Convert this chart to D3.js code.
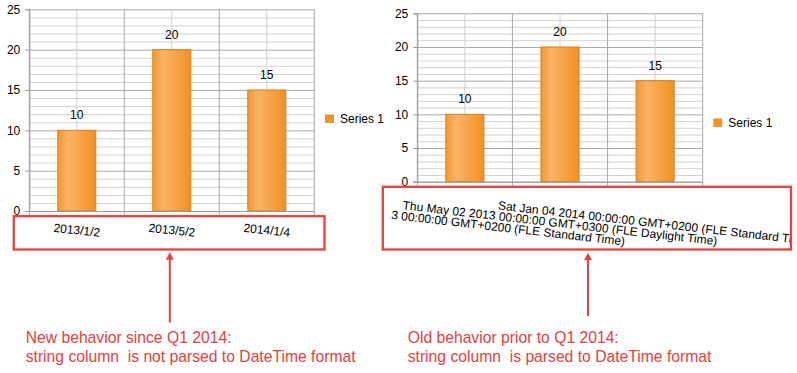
<!DOCTYPE html>
<html>
<head>
<meta charset="utf-8">
<script src="https://cdn.jsdelivr.net/npm/d3@7"></script>
<style>
  body { margin: 0; background: #fff; }
  svg { display: block; font-family: "Liberation Sans", Arial, sans-serif; }
</style>
</head>
<body>
<div id="chart"></div>
<script>
// data
const categories = ["2013/1/2", "2013/5/2", "2014/1/4"];
const parsedCategories = [
  "Wed Jan 02 2013 00:00:00 GMT+0200 (FLE Standard Time)",
  "Thu May 02 2013 00:00:00 GMT+0300 (FLE Daylight Time)",
  "Sat Jan 04 2014 00:00:00 GMT+0200 (FLE Standard Time)"
];
const values = [10, 20, 15];
const yTicks = [0, 5, 10, 15, 20, 25];
const seriesName = "Series 1";
const newNote = ["New behavior since Q1 2014:", "string column  is not parsed to DateTime format"];
const oldNote = ["Old behavior prior to Q1 2014:", "string column  is parsed to DateTime format"];

const red = "#e8403d";
const W = 797, H = 373;

const svg = d3.select("#chart").append("svg")
    .attr("width", W)
    .attr("height", H);

const defs = svg.append("defs");
const grad = defs.append("linearGradient")
    .attr("id", "barGrad")
    .attr("x1", 0).attr("x2", 1).attr("y1", 0).attr("y2", 0);
grad.selectAll("stop")
  .data([
    {offset: "0%", color: "#f39832"},
    {offset: "28%", color: "#f8b466"},
    {offset: "100%", color: "#f39022"}
  ])
  .enter().append("stop")
    .attr("offset", d => d.offset)
    .attr("stop-color", d => d.color);

// the old-behaviour screenshot is cropped, so its long labels get cut off
defs.append("clipPath").attr("id", "rightClip")
  .append("rect")
    .attr("x", 390).attr("y", 180).attr("width", 400).attr("height", 80);

function drawChart(p) {
  const g = svg.append("g");

  const x = d3.scaleBand()
      .domain(p.labels)
      .range([p.left, p.right])
      .padding(0);

  const y = d3.scaleLinear()
      .domain([0, 25])
      .range([p.bottom, p.top]);

  // minor + major horizontal grid
  g.append("g").selectAll("line")
    .data(d3.range(0, 26))
    .enter().append("line")
      .attr("x1", p.left).attr("x2", p.right)
      .attr("y1", d => y(d) + 0.5).attr("y2", d => y(d) + 0.5)
      .attr("stroke", d => d % 5 === 0 ? "#a9a9a9" : "#d2d2d2");

  // vertical grid: minor at centers, major at band edges
  g.append("g").selectAll("line")
    .data(p.labels)
    .enter().append("line")
      .attr("x1", d => x(d) + x.bandwidth() / 2).attr("x2", d => x(d) + x.bandwidth() / 2)
      .attr("y1", p.top).attr("y2", p.bottom)
      .attr("stroke", "#d2d2d2");

  const edges = p.labels.map(d => x(d)).concat([p.right]);
  g.append("g").selectAll("line")
    .data(edges)
    .enter().append("line")
      .attr("x1", d => d).attr("x2", d => d)
      .attr("y1", p.top).attr("y2", p.bottom + 4)
      .attr("stroke", "#a9a9a9");

  // bars
  const bw = x.bandwidth() * 0.4;
  g.append("g").selectAll("rect")
    .data(values)
    .enter().append("rect")
      .attr("x", (d, i) => x(p.labels[i]) + (x.bandwidth() - bw) / 2)
      .attr("y", d => y(d))
      .attr("width", bw)
      .attr("height", d => y(0) - y(d))
      .attr("fill", "url(#barGrad)")
      .attr("stroke", "#d5801c")
      .attr("stroke-width", 1);

  g.append("g").selectAll("text")
    .data(values)
    .enter().append("text")
      .attr("x", (d, i) => x(p.labels[i]) + x.bandwidth() / 2)
      .attr("y", d => y(d) - 11)
      .attr("text-anchor", "middle")
      .attr("font-size", 12)
      .attr("fill", "#000")
      .text(d => d);

  // y axis
  const yAxis = g.append("g")
      .attr("transform", `translate(${p.left},0)`)
      .call(d3.axisLeft(y).tickValues(yTicks).tickSize(4).tickPadding(5));
  yAxis.select(".domain").attr("stroke", "#9a9a9a");
  yAxis.selectAll(".tick line").attr("stroke", "#9a9a9a");
  yAxis.selectAll("text")
      .attr("font-size", 12)
      .attr("font-family", "Liberation Sans, Arial, sans-serif")
      .attr("fill", "#000");

  // x axis base line
  g.append("line")
      .attr("x1", p.left - 4).attr("x2", p.right)
      .attr("y1", p.bottom + 0.5).attr("y2", p.bottom + 0.5)
      .attr("stroke", "#9a9a9a");

  // category labels, slightly rotated
  const lab = g.append("g");
  if (p.clip) lab.attr("clip-path", "url(#" + p.clip + ")");
  lab.selectAll("text")
    .data(p.labels)
    .enter().append("text")
      .attr("transform", d => `translate(${x(d) + x.bandwidth() / 2},${p.labelY}) rotate(${p.angle})`)
      .attr("text-anchor", "middle")
      .attr("dy", "0.35em")
      .attr("font-size", 12)
      .attr("fill", "#000")
      .text(d => d);

  // legend
  const lg = g.append("g").attr("transform", `translate(${p.legendX},${p.legendY})`);
  lg.append("rect")
      .attr("x", 0).attr("y", -4.5)
      .attr("width", 9).attr("height", 8.5)
      .attr("fill", "#f39428");
  lg.append("text")
      .attr("x", 15).attr("dy", "0.35em")
      .attr("font-size", 12)
      .attr("fill", "#000")
      .text(seriesName);

  // red highlight box, arrow and note
  svg.append("rect")
      .attr("x", p.box[0]).attr("y", p.box[1])
      .attr("width", p.box[2] - p.box[0]).attr("height", p.box[3] - p.box[1])
      .attr("fill", "none")
      .attr("stroke", red)
      .attr("stroke-width", 2.3);

  svg.append("line")
      .attr("x1", p.arrow[0]).attr("x2", p.arrow[0])
      .attr("y1", p.arrow[1] + 6).attr("y2", p.arrow[2])
      .attr("stroke", red)
      .attr("stroke-width", 2);
  svg.append("path")
      .attr("d", `M${p.arrow[0]},${p.arrow[1]} L${p.arrow[0] + 4},${p.arrow[1] + 7.5} L${p.arrow[0] - 4},${p.arrow[1] + 7.5} Z`)
      .attr("fill", red);

  svg.append("g").selectAll("text")
    .data(p.note)
    .enter().append("text")
      .attr("x", p.noteX)
      .attr("y", (d, i) => 342.7 + i * 19)
      .attr("font-size", 15.7)
      .attr("fill", red)
      .style("white-space", "pre")
      .text(d => d);
}

drawChart({
  labels: categories,
  left: 29.3, right: 314.3, top: 9.3, bottom: 211,
  labelY: 230, angle: 6,
  legendX: 325, legendY: 119,
  box: [13.8, 216.2, 324.5, 249.5],
  arrow: [169.8, 252.3, 322.7],
  note: newNote, noteX: 25.7
});

drawChart({
  labels: parsedCategories,
  left: 417.3, right: 702.7, top: 13.3, bottom: 181.7,
  labelY: 223, angle: 6.5, clip: "rightClip",
  legendX: 713.3, legendY: 123,
  box: [382.8, 186.8, 791, 249.5],
  arrow: [588, 252.7, 316],
  note: oldNote, noteX: 407.7
});
</script>
</body>
</html>
